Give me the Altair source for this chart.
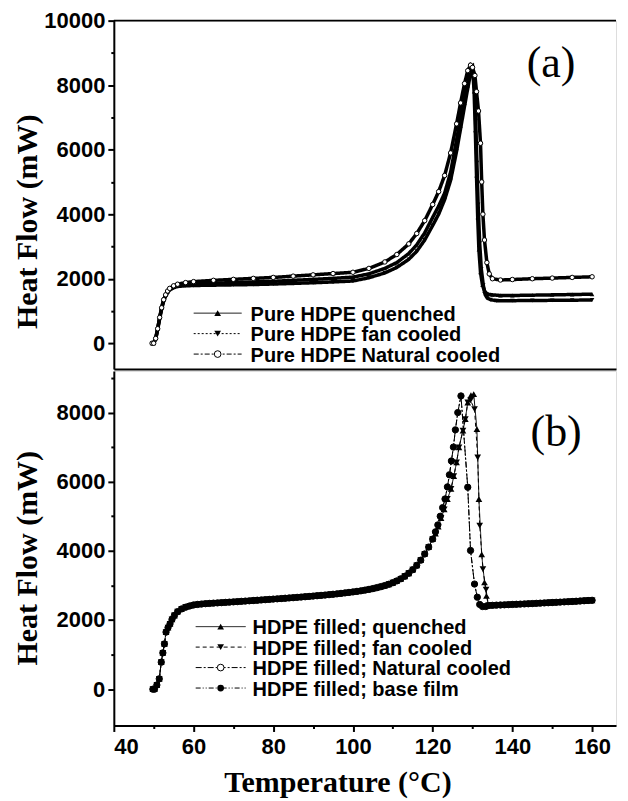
import altair as alt
import pandas as pd

W = 503
HA = 349
HB = 355

# ---------------- Panel (a): pure HDPE ----------------
a_rise_T = [49.6, 50.0, 50.5, 51.0, 51.5, 52.0, 52.5, 53.0, 53.5, 54.0, 55, 56, 58, 60,
            65, 70, 75, 80, 85, 90, 95, 100]
a_nat_rise_V = [0, 0, 150, 450, 800, 1100, 1350, 1500, 1620, 1700, 1780, 1830, 1880, 1910,
                1950, 1980, 2010, 2040, 2080, 2120, 2160, 2200]
a_q_rise_V = [0, 0, 150, 450, 800, 1100, 1350, 1500, 1600, 1680, 1750, 1790, 1820, 1840,
              1860, 1880, 1900, 1920, 1950, 1980, 2010, 2050]
a_f_rise_V = [0, 0, 130, 420, 760, 1060, 1300, 1460, 1570, 1650, 1720, 1760, 1780, 1790,
              1800, 1810, 1820, 1835, 1855, 1875, 1900, 1930]

a_nat_T2 = [104, 108, 111, 114, 116, 118, 120, 121.5, 123, 124.5, 126, 127, 128, 128.8, 129.5,
            130.0, 130.6, 131.0, 131.5, 132.0, 132.3, 132.6, 133.0, 133.6, 134.2, 135.0,
            137, 140, 145, 150, 155, 160]
a_nat_V2 = [2320, 2520, 2750, 3080, 3400, 3800, 4300, 4700, 5200, 5900, 6800, 7450, 8050, 8450, 8620,
            8550, 8300, 7800, 7200, 6200, 5000, 4000, 3200, 2500, 2150, 2000,
            1960, 1975, 2000, 2020, 2040, 2060]

a_q_T2 = [104, 108, 111, 114, 116, 118, 120, 121.5, 123, 124.5, 126, 127, 128, 128.8, 129.5,
          130.0, 130.4, 130.7, 131.0, 131.3, 131.6, 132.0, 132.5, 133.0, 133.5, 134.0,
          135, 137, 140, 145, 150, 155, 160]
a_q_V2 = [2150, 2320, 2500, 2780, 3050, 3420, 3900, 4250, 4650, 5300, 6300, 7000, 7650, 8150, 8520,
          8580, 7800, 6600, 5200, 3900, 2900, 2200, 1800, 1620, 1550, 1520,
          1500, 1480, 1480, 1490, 1500, 1510, 1520]

a_f_T2 = [104, 108, 111, 114, 116, 118, 120, 121.5, 123, 124.5, 126, 127, 128, 128.8, 129.5,
          130.0, 130.5, 130.8, 131.1, 131.4, 131.8, 132.2, 132.7, 133.2, 133.7, 134.5,
          136, 140, 145, 150, 155, 160]
a_f_V2 = [2030, 2180, 2350, 2600, 2850, 3200, 3650, 4000, 4450, 5050, 5950, 6650, 7350, 7900, 8350,
          8500, 7900, 6900, 5600, 4300, 3100, 2300, 1800, 1500, 1400, 1350,
          1320, 1320, 1325, 1330, 1335, 1340]

# ---------------- Panel (b): filled HDPE ----------------
b_common_T = [49.8, 50.2, 50.8, 51.4, 51.9, 52.3, 52.7, 53.1, 53.6, 54.1, 54.6, 55.2, 56, 57, 58, 59,
              60, 61, 62, 63, 64, 65, 66, 67, 68, 69, 70, 71, 72, 73, 74, 75, 76, 77, 78, 79,
              80, 81, 82, 83, 84, 85, 86, 87, 88, 89, 90, 91, 92, 93, 94, 95, 96, 97, 98, 99,
              100, 101, 102, 103, 104, 105, 106, 107, 108, 109, 110, 111, 112, 113, 114, 115,
              116, 117, 118, 119, 120]
b_common_V = [0, 0, 120, 300, 780, 1050, 1310, 1650, 1780, 1890, 2020, 2130, 2240, 2320, 2370, 2405,
              2435, 2450, 2462, 2472, 2480, 2488, 2495, 2502, 2510, 2517, 2525, 2532, 2540, 2548,
              2556, 2564, 2572, 2580, 2588, 2596, 2605, 2613, 2621, 2630, 2638, 2646, 2655, 2664,
              2673, 2682, 2692, 2702, 2712, 2722, 2733, 2745, 2757, 2770, 2784, 2798, 2812, 2828,
              2845, 2864, 2885, 2908, 2934, 2963, 2996, 3034, 3078, 3130, 3192, 3265, 3352, 3455,
              3580, 3730, 3910, 4110, 4340]

b_tail_T = [134, 135, 136, 137, 138, 139, 140, 141, 142, 143, 144, 145, 146, 147, 148, 149, 150,
            151, 152, 153, 154, 155, 156, 157, 158, 159, 160]
b_tail_V = [2420, 2425, 2430, 2435, 2440, 2445, 2450, 2455, 2460, 2465, 2470, 2476, 2482, 2488,
            2494, 2500, 2506, 2512, 2518, 2524, 2530, 2536, 2543, 2550, 2557, 2564, 2570]

b_base_T = [120.7, 121.3, 121.9, 122.5, 123.1, 123.7, 124.2, 124.7, 125.2, 125.7, 126.3, 127.1,
            128.8, 129.5, 130.5, 131.2, 131.8, 132.5, 133.3]
b_base_V = [4550, 4750, 5000, 5250, 5500, 5850, 6200, 6600, 7000, 7500, 8000, 8480,
            5840, 4010, 3040, 2660, 2450, 2390, 2390]

b_qf_rise_T = [120.7, 121.4, 122.1, 122.9, 123.7, 124.6, 125.3, 126.0, 126.6, 127.6, 128.2, 128.8]
b_qf_rise_V = [4500, 4700, 4950, 5200, 5500, 5790, 6160, 6560, 6990, 7480, 7810, 8290]

b_q_T = [129.6, 130.3, 131.1, 131.6, 132.3, 133.0, 133.5]
b_q_V = [8500, 8530, 7520, 5500, 3900, 3090, 2700]
b_f_T = [129.5, 130.5, 131.3, 131.8, 132.6, 133.4]
b_f_V = [8350, 8100, 6700, 4730, 3470, 2880]

legend_a = ["Pure HDPE quenched", "Pure HDPE fan cooled", "Pure HDPE Natural cooled"]
legend_b = ["HDPE filled; quenched", "HDPE filled; fan cooled",
            "HDPE filled; Natural cooled", "HDPE filled; base film"]

SANS = "Liberation Sans"
SERIF = "Liberation Serif"
LEG_FS = 20


def frame(T, V):
    return pd.DataFrame({"T": T, "V": V})


xs = alt.Scale(domain=[40, 166], nice=False, zero=False)
ya_s = alt.Scale(domain=[-800, 10000], nice=False, zero=False)
yb_s = alt.Scale(domain=[-1050, 9200], nice=False, zero=False)

minor_y = {"condition": {"test": "datum.value % 2000 !== 0", "value": 3}, "value": 6}
minor_x = {"condition": {"test": "datum.value % 20 !== 0", "value": 3}, "value": 6}

common_axis = dict(grid=False, domainColor="black", domainWidth=2, tickColor="black",
                   tickWidth=2, labelColor="black", labelFont=SANS, labelFontSize=22,
                   labelFontWeight="bold", titleFont=SERIF, titleFontSize=30,
                   titleFontWeight="bold", titleColor="black")

x_a = alt.X("T:Q", scale=xs, axis=alt.Axis(labels=False, ticks=False, title=None, **common_axis))
x_b = alt.X("T:Q", scale=xs, axis=alt.Axis(
    values=[40, 50, 60, 70, 80, 90, 100, 110, 120, 130, 140, 150, 160],
    labelExpr="datum.value % 20 === 0 ? datum.label : ''",
    tickSize=minor_x, labelPadding=5, format="d",
    title="Temperature (°C)", titleX=224, titleY=66, titleAlign="center",
    titleBaseline="alphabetic", titleAngle=0, **common_axis))

y_a = alt.Y("V:Q", scale=ya_s, axis=alt.Axis(
    values=[0, 1000, 2000, 3000, 4000, 5000, 6000, 7000, 8000, 9000, 10000],
    labelExpr="datum.value % 2000 === 0 ? datum.label : ''",
    tickSize=minor_y, labelPadding=3, format="d",
    title="Heat Flow (mW)", titleX=-86, titleY=201, titleAlign="center",
    titleBaseline="middle", titleAngle=270, **common_axis))
y_b = alt.Y("V:Q", scale=yb_s, axis=alt.Axis(
    values=[0, 1000, 2000, 3000, 4000, 5000, 6000, 7000, 8000, 9000],
    labelExpr="datum.value % 2000 === 0 ? datum.label : ''",
    tickSize=minor_y, labelPadding=3, format="d",
    title="Heat Flow (mW)", titleX=-86, titleY=187, titleAlign="center",
    titleBaseline="middle", titleAngle=270, **common_axis))


def series(df, x, y, shape, filled, size, lw, dash):
    line = alt.Chart(df).mark_line(color="black", strokeWidth=lw, strokeDash=dash).encode(x=x, y=y)
    if filled:
        pts = alt.Chart(df).mark_point(shape=shape, filled=True, color="black", size=size,
                                       opacity=1).encode(x=x, y=y)
    else:
        pts = alt.Chart(df).mark_point(shape=shape, filled=True, fill="white", stroke="black",
                                       strokeWidth=1, size=size, opacity=1).encode(x=x, y=y)
    return line, pts


def legend(labels, specs, line_x, mark_x, text_x, centers, baselines):
    layers = []
    for lab, (shape, filled, dash), yc, yb in zip(labels, specs, centers, baselines):
        d = pd.DataFrame({"label": [lab]})
        layers.append(alt.Chart(d).mark_rule(color="black", strokeWidth=1, strokeDash=dash).encode(
            x=alt.value(line_x[0]), x2=alt.value(line_x[1]), y=alt.value(yc)))
        if filled:
            m = alt.Chart(d).mark_point(shape=shape, filled=True, color="black", size=45, opacity=1)
        else:
            m = alt.Chart(d).mark_point(shape=shape, filled=True, fill="white", stroke="black",
                                        strokeWidth=1, size=45, opacity=1)
        layers.append(m.encode(x=alt.value(mark_x), y=alt.value(yc)))
        layers.append(alt.Chart(d).mark_text(align="left", baseline="alphabetic", font=SANS,
                                             fontSize=LEG_FS, fontWeight="bold", color="black").encode(
            x=alt.value(text_x), y=alt.value(yb), text="label:N"))
    return layers


# ---- panel (a) layers
fa_l, fa_p = series(frame(a_rise_T + a_f_T2, a_f_rise_V + a_f_V2), x_a, y_a, "triangle-down", True, 20, 3.5, [1, 0])
qa_l, qa_p = series(frame(a_rise_T + a_q_T2, a_q_rise_V + a_q_V2), x_a, y_a, "triangle-up", True, 20, 3.5, [1, 0])
na_l, na_p = series(frame(a_rise_T + a_nat_T2, a_nat_rise_V + a_nat_V2), x_a, y_a, "circle", False, 20, 3.5, [1, 0])

top_rule = alt.Chart(pd.DataFrame({"d": [0]})).mark_rule(color="black", strokeWidth=2).encode(
    x=alt.value(0), x2=alt.value(W), y=alt.value(0))

tag_a = alt.Chart(pd.DataFrame({"t": ["(a)"]})).mark_text(
    font=SERIF, fontSize=44, align="center", baseline="alphabetic", color="black").encode(
    x=alt.value(438), y=alt.value(56), text="t:N")

leg_a = legend(legend_a,
               [("triangle-up", True, [1, 0]), ("triangle-down", True, [2, 2]), ("circle", False, [5, 2, 2, 2])],
               (80, 128), 104, 137, [293, 313.5, 334], [300.5, 321, 341.5])

panel_a = alt.layer(fa_l, qa_l, na_l, fa_p, qa_p, na_p, top_rule, tag_a, *leg_a).properties(
    width=W, height=HA)

# ---- panel (b) layers
nb_l, nb_p = series(frame(b_common_T + b_base_T + b_tail_T, b_common_V + b_base_V + b_tail_V),
                    x_b, y_b, "circle", False, 40, 1, [6, 2, 2, 2])
qb_l, qb_p = series(frame(b_common_T + b_qf_rise_T + b_q_T + b_tail_T,
                          b_common_V + b_qf_rise_V + b_q_V + b_tail_V),
                    x_b, y_b, "triangle-up", True, 45, 1, [1, 0])
fb_l, fb_p = series(frame(b_common_T + b_qf_rise_T + b_f_T + b_tail_T,
                          b_common_V + b_qf_rise_V + b_f_V + b_tail_V),
                    x_b, y_b, "triangle-down", True, 45, 1, [4, 3])
bb_l, bb_p = series(frame(b_common_T + b_base_T + b_tail_T, b_common_V + b_base_V + b_tail_V),
                    x_b, y_b, "circle", True, 40, 1, [6, 2, 2, 2, 2, 2])

tag_b = alt.Chart(pd.DataFrame({"t": ["(b)"]})).mark_text(
    font=SERIF, fontSize=44, align="center", baseline="alphabetic", color="black").encode(
    x=alt.value(443), y=alt.value(75), text="t:N")

leg_b = legend(legend_b,
               [("triangle-up", True, [1, 0]), ("triangle-down", True, [4, 3]),
                ("circle", False, [6, 2, 2, 2]), ("circle", True, [5, 2, 1, 2, 1, 2])],
               (82, 132), 107, 139, [256, 276.5, 297, 317.5], [263.5, 284, 304.5, 325])

panel_b = alt.layer(nb_l, qb_l, fb_l, bb_l, nb_p, qb_p, fb_p, bb_p, tag_b, *leg_b).properties(
    width=W, height=HB)

chart = alt.vconcat(panel_a, panel_b, spacing=0).properties(
    padding={"left": 4, "top": 0, "right": 2, "bottom": 0}
).configure_view(stroke=None).configure(background="white")

chart.save("out.html", embed_options={"renderer": "svg", "actions": False})
